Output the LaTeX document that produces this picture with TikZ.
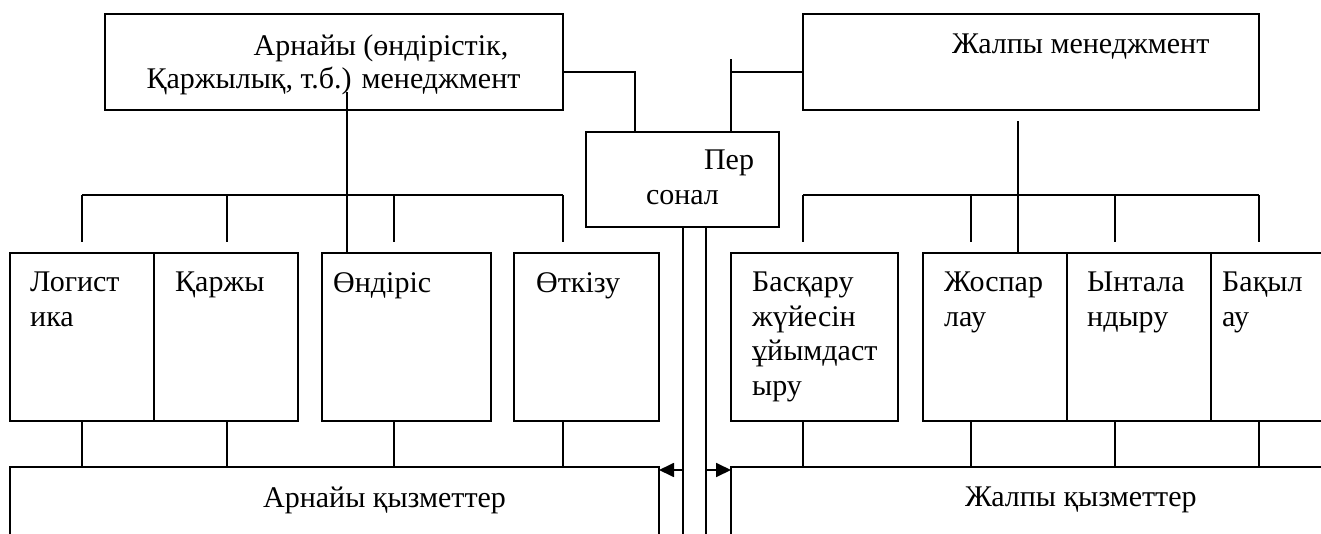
\documentclass[tikz,border=0pt]{standalone}
\usepackage{fontspec}
\setmainfont{Liberation Serif}
\usetikzlibrary{arrows.meta, positioning}
\tikzstyle{block} = [rectangle, draw=black, line width=1.8pt, inner sep=0pt, outer sep=0pt, anchor=north west]
\tikzstyle{unit} = [block, minimum width=144pt, minimum height=168pt]
\tikzstyle{txt} = [anchor=north west, align=left, inner sep=0pt, font=\fontsize{30}{34.5}\selectfont]
\tikzstyle{link} = [line width=1.8pt]
\tikzstyle{arrow} = [link, -{Triangle[length=15pt, width=14pt]}]

\begin{document}
\begin{tikzpicture}[x=1pt, y=1pt]
	\useasboundingbox (0,0) rectangle (1321,533);

	% management
	\node (arn) [block, minimum width=458pt, minimum height=96pt] at (105,519) {};
	\node (zhal) [block, minimum width=456pt, minimum height=96pt] at (803,519) {};
	\node (pers) [block, minimum width=193pt, minimum height=95pt] at (586,401) {};

	% functions
	\node (log) [unit] at (10,280) {};
	\node (karzh) [unit, right=0pt of log] {};
	\node (ond) [unit, minimum width=169pt] at (322,280) {};
	\node (otk) [unit, minimum width=145pt] at (514,280) {};
	\node (bask) [unit, minimum width=167pt] at (731,280) {};
	\node (zhosp) [unit] at (923,280) {};
	\node (ynt) [unit, right=0pt of zhosp] {};
	\node (bak) [unit, right=0pt of ynt] {};

	% services
	\node (arnq) [block, minimum width=649pt, minimum height=85pt] at (10,66) {};
	\node (zhalq) [block, minimum width=640pt, minimum height=85pt] at (731,66) {};

	% texts
	\node (arnT) [txt, anchor=north, align=center, font=\fontsize{30}{33}\selectfont] at (333.5,499) {\hspace*{95pt}Арнайы (өндірістік,\\Қаржылық, т.б.) менеджмент};
	\node (zhalT) [txt] at (952,499) {Жалпы менеджмент};
	\node (persT) [txt, anchor=north, align=center] at (682.5,383) {\hspace*{93pt}Пер\\сонал};
	\node (logT) [txt] at ([shift={(20,-19)}]log.north west) {Логист\\ика};
	\node (karzhT) [txt] at ([shift={(21,-19)}]karzh.north west) {Қаржы};
	\node (ondT) [txt] at ([shift={(11,-19)}]ond.north west) {Өндіріс};
	\node (otkT) [txt] at ([shift={(22,-19)}]otk.north west) {Өткізу};
	\node (baskT) [txt] at ([shift={(21,-19)}]bask.north west) {Басқару\\жүйесін\\ұйымдаст\\ыру};
	\node (zhospT) [txt] at ([shift={(21,-19)}]zhosp.north west) {Жоспар\\лау};
	\node (yntT) [txt] at ([shift={(20,-19)}]ynt.north west) {Ынтала\\ндыру};
	\node (bakT) [txt] at ([shift={(11,-19)}]bak.north west) {Бақыл\\ау};
	\node (arnqT) [txt] at (263,46) {Арнайы қызметтер};
	\node (zhalqT) [txt] at (965,46) {Жалпы қызметтер};

	% links
	\draw [link] ([yshift=-10pt]arn.east) -| ([xshift=-47.5pt]pers.north);
	\draw [link] ([xshift=48.5pt]pers.north) -- ++(0,73);
	\draw [link] ([yshift=-10pt]zhal.west) -- ++(-72,0);
	\draw [link] ([xshift=25pt]ond.north west) -- ++(0,161);
	\draw [link] ([xshift=95pt]zhosp.north west) -- ++(0,132);

	\draw [link] (82,338) -- (563,338);
	\draw [link] (803,338) -- (1259,338);
	\foreach \x in {82,227,394,563,803,971,1115,1259} {
		\draw [link] (\x,338) -- (\x,291);
		\draw [link] (\x,0 |- log.south) -- (\x,0 |- arnq.north);
	}

	% personnel channels
	\draw [link] (683,0 |- pers.south) -- (683,-15);
	\draw [link] (706,0 |- pers.south) -- (706,-15);
	\draw [arrow] (683,63) -- ([yshift=-3pt]arnq.north east);
	\draw [arrow] (706,63) -- ([yshift=-3pt]zhalq.north west);
\end{tikzpicture}
\end{document}
